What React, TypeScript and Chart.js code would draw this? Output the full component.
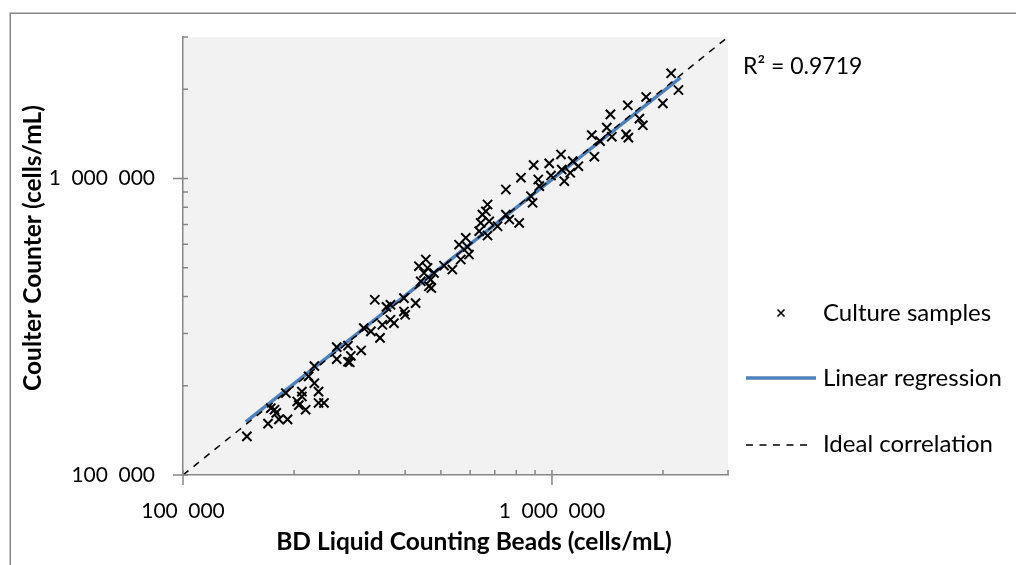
import React, { useEffect, useRef } from 'react';
import { Chart, registerables } from 'chart.js';

Chart.register(...registerables);

// ---- data ----
const beadsCounts = [
  149000, 170000, 173000, 177000, 179000, 182000, 192000, 190000, 204000, 206000,
  210000, 210000, 215000, 219000, 227000, 227000, 233000, 233000, 241000, 261000,
  261000, 280000, 285000, 280000, 283000, 304000, 323000, 342000, 331000, 309000,
  347000, 356000, 365000, 365000, 373000, 397000, 397000, 400000, 427000, 436000,
  455000, 460000, 450000, 441000, 469000, 464000, 471000, 479000, 510000, 537000,
  566000, 560000, 584000, 590000, 596000, 635000, 641000, 648000, 669000, 662000,
  676000, 669000, 712000, 750000, 750000, 766000, 815000, 824000, 2104000, 2202000,
  1998000, 1800000, 1605000, 1726000, 1763000, 1440000, 1408000, 1453000, 1282000, 1350000,
  1588000, 1611000, 1303000, 1058000, 983000, 892000, 918000, 994000, 1063000, 1138000,
  1121000, 1179000, 1080000, 924000, 877000, 886000,
];
const coulterCounts = [
  135000, 149000, 168000, 166000, 162000, 154000, 154000, 189000, 177000, 172000,
  191000, 184000, 166000, 215000, 233000, 204000, 191000, 175000, 175000, 270000,
  246000, 273000, 252000, 241000, 240000, 263000, 305000, 290000, 390000, 313000,
  321000, 369000, 375000, 334000, 325000, 395000, 356000, 347000, 380000, 506000,
  533000, 499000, 480000, 450000, 456000, 433000, 427000, 480000, 508000, 493000,
  533000, 598000, 631000, 588000, 554000, 664000, 708000, 755000, 817000, 775000,
  717000, 642000, 690000, 918000, 755000, 727000, 708000, 1006000, 2263000, 1988000,
  1792000, 1883000, 1765000, 1591000, 1511000, 1645000, 1484000, 1383000, 1401000, 1337000,
  1408000, 1373000, 1184000, 1205000, 1124000, 1109000, 992000, 1023000, 1072000, 1144000,
  1045000, 1100000, 979000, 942000, 871000, 828000,
];
const regressionX = [148000, 2230000];
const regressionY = [151000, 2190000];
const idealX = [100000, 3000000];
const idealY = [100000, 3000000];

const axisMin = 100000;
const axisMax = 3000000;
const majorTicks = [100000, 1000000];
const majorTickLabels = ['100 000', '1 000 000'];
const minorTicks = [200000, 300000, 400000, 500000, 600000, 700000, 800000, 900000, 2000000, 3000000];

const seriesNames = ['Culture samples', 'Linear regression', 'Ideal correlation'];
const rSquaredText = 'R² = 0.9719';
const xTitle = 'BD Liquid Counting Beads (cells/mL)';
const yTitle = 'Coulter Counter (cells/mL)';

// ---- styles ----
const FONT = 'Lato';
const AXIS_COLOR = '#868686';
const PLOT_BG = '#F2F2F2';
const BLUE = '#4F81BD';

const decorPlugin = {
  id: 'decor',
  beforeDraw(chart: any) {
    const { ctx, chartArea } = chart;
    ctx.save();
    ctx.fillStyle = '#ffffff';
    ctx.fillRect(0, 0, chart.width, chart.height);
    ctx.fillStyle = PLOT_BG;
    ctx.fillRect(chartArea.left, chartArea.top, chartArea.right - chartArea.left, chartArea.bottom - chartArea.top);
    // outer frame
    ctx.strokeStyle = AXIS_COLOR;
    ctx.lineWidth = 1.5;
    ctx.beginPath();
    ctx.moveTo(10.25, chart.height);
    ctx.lineTo(10.25, 13.25);
    ctx.lineTo(chart.width, 13.25);
    ctx.stroke();
    ctx.restore();
  },
  afterDraw(chart: any) {
    const { ctx, chartArea } = chart;
    const xs = chart.scales.x;
    const ys = chart.scales.y;
    ctx.save();
    ctx.strokeStyle = AXIS_COLOR;
    ctx.lineWidth = 1.5;
    ctx.beginPath();
    const bottom = chartArea.bottom;
    const left = chartArea.left;
    majorTicks.forEach((v) => {
      const px = xs.getPixelForValue(v);
      ctx.moveTo(px, bottom - 5);
      ctx.lineTo(px, bottom + 10);
      const py = ys.getPixelForValue(v);
      ctx.moveTo(left - 10, py);
      ctx.lineTo(left + 5, py);
    });
    minorTicks.forEach((v) => {
      const px = xs.getPixelForValue(v);
      ctx.moveTo(px, bottom - 5);
      ctx.lineTo(px, bottom);
      const py = ys.getPixelForValue(v);
      ctx.moveTo(left, py);
      ctx.lineTo(left + 5, py);
    });
    ctx.stroke();

    // axis titles
    ctx.fillStyle = '#000';
    ctx.font = `bold 24.5px ${FONT}`;
    ctx.textAlign = 'center';
    ctx.textBaseline = 'middle';
    ctx.fillText(xTitle, 474, 542);
    ctx.save();
    ctx.translate(33, 248);
    ctx.rotate(-Math.PI / 2);
    ctx.fillText(yTitle, 0, 0);
    ctx.restore();

    // R squared label
    ctx.font = `23px ${FONT}`;
    ctx.textAlign = 'left';
    ctx.fillText(rSquaredText, 743, 67);

    // legend
    ctx.font = `24px ${FONT}`;
    const textX = 823;
    const rows = [313, 378, 444];
    // marker
    ctx.strokeStyle = '#000';
    ctx.lineWidth = 1.6;
    ctx.beginPath();
    ctx.moveTo(781 - 3.5, rows[0] - 3.5);
    ctx.lineTo(781 + 3.5, rows[0] + 3.5);
    ctx.moveTo(781 + 3.5, rows[0] - 3.5);
    ctx.lineTo(781 - 3.5, rows[0] + 3.5);
    ctx.stroke();
    // regression
    ctx.strokeStyle = BLUE;
    ctx.lineWidth = 3.5;
    ctx.beginPath();
    ctx.moveTo(746, rows[1]);
    ctx.lineTo(816, rows[1]);
    ctx.stroke();
    // ideal
    ctx.strokeStyle = '#000';
    ctx.lineWidth = 1.5;
    ctx.setLineDash([7, 6.5]);
    ctx.beginPath();
    ctx.moveTo(746, rows[2] + 1);
    ctx.lineTo(812, rows[2] + 1);
    ctx.stroke();
    ctx.setLineDash([]);
    seriesNames.forEach((name, i) => {
      ctx.fillText(name, textX, rows[i]);
    });
    ctx.restore();
  },
};

export default function App() {
  const canvasRef = useRef<HTMLCanvasElement | null>(null);

  useEffect(() => {
    if (!canvasRef.current) return;
    const samples = beadsCounts.map((x, i) => ({ x, y: coulterCounts[i] }));
    const regression = regressionX.map((x, i) => ({ x, y: regressionY[i] }));
    const ideal = idealX.map((x, i) => ({ x, y: idealY[i] }));

    // Thousands separators are displayed as wide (en) spaces, as in the original.
    const tickLabel = (value: any) => {
      const idx = majorTicks.indexOf(Number(value));
      return idx >= 0 ? majorTickLabels[idx].replace(/ /g, '\u2002') : '';
    };

    const chart = new Chart(canvasRef.current, {
      type: 'scatter',
      data: {
        datasets: [
          {
            label: seriesNames[0],
            data: samples,
            pointStyle: 'crossRot',
            pointRadius: 6.5,
            pointBorderWidth: 2,
            borderColor: '#000',
            backgroundColor: '#000',
            showLine: false,
            order: 1,
          },
          {
            label: seriesNames[1],
            data: regression,
            showLine: true,
            borderColor: BLUE,
            borderWidth: 3.5,
            pointRadius: 0,
            order: 3,
          },
          {
            label: seriesNames[2],
            data: ideal,
            showLine: true,
            borderColor: '#000',
            borderWidth: 1.5,
            borderDash: [7, 6.5],
            pointRadius: 0,
            order: 2,
          },
        ],
      },
      options: {
        animation: false,
        responsive: false,
        devicePixelRatio: 1,
        layout: { padding: { left: 0, top: 37, right: 288, bottom: 0 } },
        plugins: {
          legend: { display: false },
          tooltip: { enabled: false },
        },
        scales: {
          x: {
            type: 'logarithmic',
            position: 'bottom',
            min: axisMin,
            max: axisMax,
            grid: { display: false },
            border: { display: true, color: AXIS_COLOR, width: 1.5 },
            afterBuildTicks: (scale: any) => {
              scale.ticks = majorTicks.map((v) => ({ value: v }));
            },
            afterFit: (scale: any) => {
              scale.height = 90;
            },
            ticks: {
              callback: tickLabel,
              color: '#000',
              font: { family: FONT, size: 21 },
              padding: 16,
              maxRotation: 0,
              autoSkip: false,
            },
            title: { display: false },
          },
          y: {
            type: 'logarithmic',
            position: 'left',
            min: axisMin,
            max: axisMax,
            grid: { display: false },
            border: { display: true, color: AXIS_COLOR, width: 1.5 },
            afterBuildTicks: (scale: any) => {
              scale.ticks = majorTicks.map((v) => ({ value: v }));
            },
            afterFit: (scale: any) => {
              scale.width = 183;
            },
            ticks: {
              callback: tickLabel,
              color: '#000',
              font: { family: FONT, size: 21 },
              padding: 20,
              autoSkip: false,
            },
            title: { display: false },
          },
        },
      } as any,
      plugins: [decorPlugin],
    });
    return () => chart.destroy();
  }, []);

  return (
    <div style={{ position: 'absolute', left: 0, top: 0, width: 1016, height: 565, background: '#fff' }}>
      <canvas ref={canvasRef} width={1016} height={565} style={{ display: 'block', width: 1016, height: 565 }} />
    </div>
  );
}
